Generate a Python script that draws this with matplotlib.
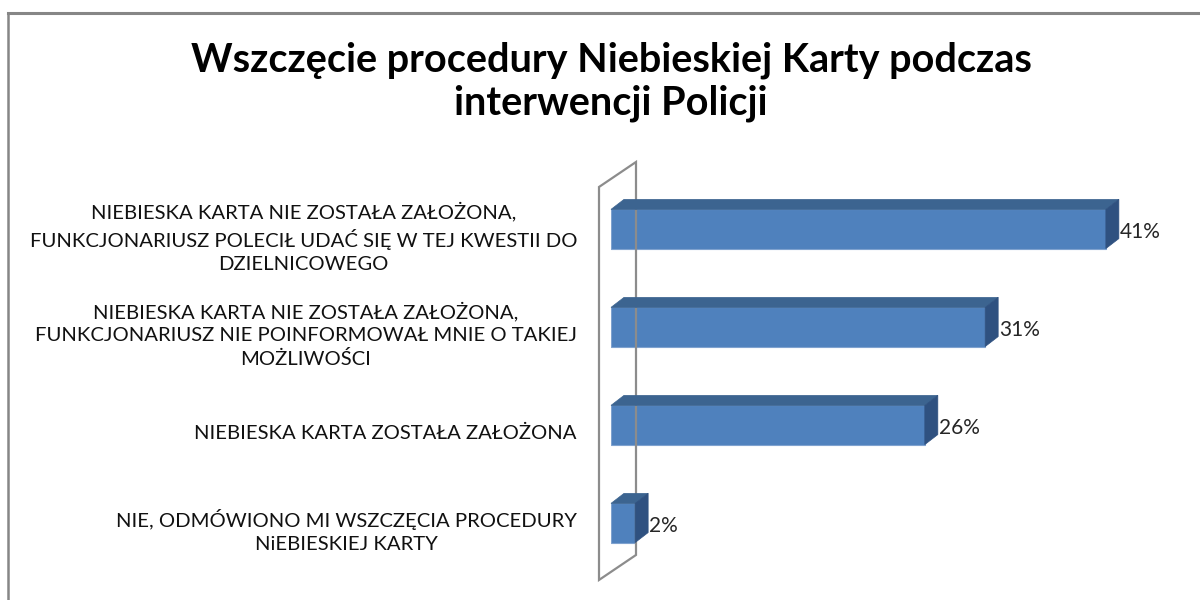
import matplotlib
matplotlib.use("Agg")
import matplotlib.pyplot as plt
from matplotlib.patches import Polygon
from matplotlib.lines import Line2D
from matplotlib.transforms import ScaledTranslation, IdentityTransform

# ---- data ----
categories = [
    "NIEBIESKA KARTA NIE ZOSTAŁA ZAŁOŻONA,\nFUNKCJONARIUSZ POLECIŁ UDAĆ SIĘ W TEJ KWESTII DO\nDZIELNICOWEGO",
    "NIEBIESKA KARTA NIE ZOSTAŁA ZAŁOŻONA,\nFUNKCJONARIUSZ NIE POINFORMOWAŁ MNIE O TAKIEJ\nMOŻLIWOŚCI",
    "NIEBIESKA KARTA ZOSTAŁA ZAŁOŻONA",
    "NIE, ODMÓWIONO MI WSZCZĘCIA PROCEDURY\nNiEBIESKIEJ KARTY",
]
values = [41, 31, 26, 2]
value_labels = ["41%", "31%", "26%", "2%"]
title = "Wszczęcie procedury Niebieskiej Karty podczas\ninterwencji Policji"

# ---- style ----
FONT = "Lato"
FRONT = "#4F81BD"
TOP = "#3C6490"
SIDE = "#2F5180"
EDGE = "#7FA2CF"
WALL = "#8C8C8C"
DPI = 100
W, H = 1200, 600

fig = plt.figure(figsize=(W / DPI, H / DPI), dpi=DPI)
fig.patch.set_facecolor("white")

# axes: x=0 at pixel 611, ~12.07 px per percent; bar centres 98 px apart
ax = fig.add_axes([611 / W, 0, 589 / W, 450 / H])
ax.set_xlim(0, 589 / 12.07)
ax.set_ylim(3.786, -0.806)
ax.axis("off")

bar_h = 0.4
ypos = list(range(len(values)))
ax.barh(ypos, values, height=bar_h, color=FRONT, edgecolor=EDGE,
        linewidth=0.8, zorder=3)

# depth offsets in pixels
DX, DY = 13, 10

def px(x, y):
    return ax.transData.transform((x, y))

# wall (3D back wall of the category axis)
wx = -12 / 12.07
wy_top = (187 - 229) / 98
wy_bot = (580 - 229) / 98
f_top = px(wx, wy_top)
f_bot = px(wx, wy_bot)
WDX, WDY = 37, 25
wall_pts = [f_bot, f_top, (f_top[0] + WDX, f_top[1] + WDY), (f_bot[0] + WDX, f_bot[1] + WDY)]
fig.patches.append(Polygon(wall_pts, closed=True, facecolor="none", edgecolor=WALL,
                           linewidth=1.6, transform=IdentityTransform(), zorder=1,
                           figure=fig))

for i, v in enumerate(values):
    x0, x1 = 0, v
    yt, yb = i - bar_h / 2, i + bar_h / 2
    lt = px(x0, yt)
    rt = px(x1, yt)
    rb = px(x1, yb)
    top = [lt, rt, (rt[0] + DX, rt[1] + DY), (lt[0] + DX, lt[1] + DY)]
    side = [rt, rb, (rb[0] + DX, rb[1] + DY), (rt[0] + DX, rt[1] + DY)]
    fig.patches.append(Polygon(top, closed=True, facecolor=TOP, edgecolor=TOP,
                               linewidth=0.5, transform=IdentityTransform(),
                               zorder=4, figure=fig))
    fig.patches.append(Polygon(side, closed=True, facecolor=SIDE, edgecolor=SIDE,
                               linewidth=0.5, transform=IdentityTransform(),
                               zorder=4, figure=fig))
    # value label
    ax.text(v, i, value_labels[i], fontsize=15, family=FONT, color="#262626",
            ha="left", va="center", zorder=6,
            transform=ax.transData + ScaledTranslation(14 / DPI, -3 / DPI, fig.dpi_scale_trans))
    # category label
    ax.text(0, i, categories[i], fontsize=14.6, family=FONT, color="#111111",
            ha="right", va="center", multialignment="center", linespacing=1.42,
            transform=ax.transData + ScaledTranslation(-34 / DPI, -8 / DPI, fig.dpi_scale_trans))

# title
fig.text(611 / W, 1 - 82 / H, title, ha="center", va="center", fontsize=28.5,
         fontweight="bold", family=FONT, linespacing=1.2)

# chart border (top and left)
fig.add_artist(Line2D([8 / W, 1], [1 - 13 / H, 1 - 13 / H], color="#868686", linewidth=2.2))
fig.add_artist(Line2D([8 / W, 8 / W], [0, 1 - 13 / H], color="#868686", linewidth=1.8))

fig.savefig("out.png", dpi=DPI, facecolor="white")
